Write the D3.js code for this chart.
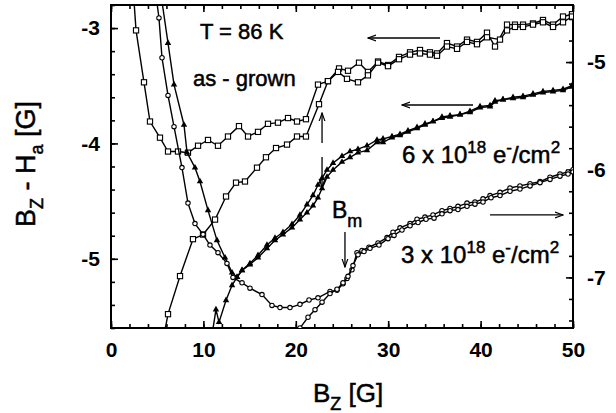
<!DOCTYPE html>
<html>
<head>
<meta charset="utf-8">
<script src="https://cdn.jsdelivr.net/npm/d3@7"></script>
<style>
  body { margin:0; background:#fff; }
  text { font-family: "Liberation Sans", Arial, Helvetica, sans-serif; fill:#000; }
</style>
</head>
<body>
<script>
// as-grown, open squares, left axis
var grown_up = [[2.44,-2.71],[2.71,-3.02],[3.57,-3.47],[4.22,-3.81],[5.30,-3.95],[6.17,-4.07],[7.25,-4.07],[8.33,-4.08],[9.42,-4.02],[10.50,-3.97],[11.58,-4.02],[12.66,-3.94],[13.85,-3.85],[14.83,-3.94],[15.91,-3.90],[16.99,-3.83],[18.07,-3.82],[19.16,-3.78],[20.13,-3.81],[21.10,-3.79],[22.40,-3.49],[23.48,-3.46],[24.68,-3.35],[25.65,-3.37],[26.84,-3.30],[27.81,-3.38],[28.90,-3.29],[29.98,-3.32],[31.17,-3.25],[32.36,-3.21],[33.44,-3.19],[34.52,-3.21],[35.28,-3.22],[36.36,-3.13],[37.45,-3.16],[38.53,-3.10],[39.61,-3.12],[40.69,-3.04],[41.56,-3.16],[42.86,-2.97],[43.72,-2.97],[44.59,-2.97],[45.67,-2.96],[46.75,-2.93],[47.84,-2.97],[48.92,-2.90],[49.89,-2.88]];
var grown_down = [[5.74,-5.66],[6.17,-5.48],[7.47,-5.15],[8.87,-4.83],[9.96,-4.79],[11.26,-4.66],[12.45,-4.46],[13.53,-4.34],[14.50,-4.33],[15.80,-4.21],[16.77,-4.12],[17.86,-4.04],[19.05,-4.01],[20.13,-3.94],[21.10,-3.94],[22.51,-3.66],[23.48,-3.46],[24.57,-3.38],[25.54,-3.44],[26.73,-3.47],[27.81,-3.41],[28.90,-3.30],[29.98,-3.33],[31.17,-3.27],[32.36,-3.23],[33.44,-3.22],[34.52,-3.23],[35.28,-3.24],[36.36,-3.16],[37.45,-3.18],[38.53,-3.12],[39.61,-3.14],[40.69,-3.08],[42.10,-3.10],[42.86,-3.02],[43.72,-2.99],[44.59,-2.99],[45.67,-2.97],[46.75,-2.95],[47.84,-2.99],[48.92,-2.95],[49.89,-2.90]];

// 6e18, filled triangles, left axis
var dose6_dec = [[5.41,-2.71],[6.17,-3.13],[6.82,-3.49],[7.90,-3.84],[8.23,-4.08],[9.09,-4.21],[9.63,-4.33],[10.50,-4.58],[11.47,-4.84],[12.34,-4.99],[13.10,-5.12],[13.64,-5.16],[14.18,-5.10],[15.04,-5.04],[15.91,-4.97],[16.88,-4.88],[17.75,-4.82],[18.61,-4.77],[19.59,-4.70],[20.45,-4.62],[21.21,-4.53],[21.86,-4.45],[22.40,-4.36],[22.84,-4.30],[23.38,-4.23],[24.03,-4.17],[25.00,-4.11],[25.87,-4.07],[26.73,-4.05],[27.71,-4.02],[28.79,-3.97],[29.44,-3.96],[30.41,-3.94],[31.28,-3.92],[32.14,-3.89],[33.12,-3.86],[33.98,-3.83],[34.85,-3.81],[35.82,-3.77],[36.69,-3.76],[37.77,-3.75],[38.85,-3.72],[39.94,-3.68],[41.02,-3.67],[41.56,-3.63],[42.42,-3.62],[43.51,-3.60],[44.59,-3.59],[45.67,-3.57],[46.75,-3.55],[47.84,-3.54],[48.92,-3.53],[49.89,-3.50]];
var dose6_inc = [[10.93,-5.66],[11.36,-5.44],[11.69,-5.55],[12.45,-5.36],[13.10,-5.23],[13.64,-5.16],[14.18,-5.10],[15.04,-5.05],[15.91,-4.99],[16.88,-4.91],[17.75,-4.84],[18.61,-4.79],[19.59,-4.73],[20.45,-4.66],[21.21,-4.60],[21.86,-4.54],[22.40,-4.47],[22.84,-4.39],[23.38,-4.29],[24.03,-4.23],[25.00,-4.16],[25.87,-4.12],[26.73,-4.08],[27.71,-4.06],[28.79,-3.99],[29.44,-3.99],[30.41,-3.95],[31.28,-3.93],[32.14,-3.90],[33.12,-3.87],[33.98,-3.84],[34.85,-3.81],[35.82,-3.78],[36.69,-3.77],[37.77,-3.75],[38.85,-3.73],[39.94,-3.69],[41.02,-3.68],[41.56,-3.64],[42.42,-3.62],[43.51,-3.61],[44.59,-3.60],[45.67,-3.58],[46.75,-3.56],[47.84,-3.55],[48.92,-3.54],[49.89,-3.51]];

// 3e18, open circles, right axis
var dose3_dec = [[4.87,-4.38],[5.19,-4.59],[5.52,-4.96],[6.17,-5.31],[6.82,-5.60],[7.68,-5.98],[8.33,-6.31],[9.09,-6.50],[9.96,-6.60],[10.71,-6.70],[11.58,-6.77],[12.55,-6.87],[13.20,-7.00],[14.18,-7.05],[15.04,-7.10],[16.34,-7.16],[17.42,-7.26],[18.29,-7.28],[19.37,-7.28],[20.45,-7.25],[21.43,-7.21],[22.40,-7.19],[23.70,-7.13],[24.46,-7.12],[25.11,-7.06],[25.54,-7.01],[26.08,-6.93],[26.62,-6.77],[27.16,-6.75],[27.92,-6.72],[28.90,-6.68],[29.87,-6.63],[30.52,-6.58],[31.28,-6.54],[32.36,-6.50],[33.12,-6.46],[33.98,-6.44],[34.85,-6.42],[35.82,-6.38],[36.69,-6.36],[37.55,-6.34],[38.53,-6.31],[39.39,-6.30],[40.26,-6.27],[41.02,-6.24],[42.10,-6.21],[43.18,-6.17],[44.26,-6.15],[45.35,-6.13],[46.43,-6.11],[47.51,-6.07],[48.59,-6.04],[49.46,-6.02],[50.00,-6.00]];
var dose3_inc = [[20.02,-7.54],[20.45,-7.47],[21.32,-7.37],[22.08,-7.30],[22.84,-7.23],[23.70,-7.15],[24.46,-7.11],[25.11,-7.05],[25.65,-6.99],[26.19,-6.89],[26.73,-6.79],[27.38,-6.76],[28.03,-6.73],[29.00,-6.70],[29.98,-6.64],[30.63,-6.61],[31.49,-6.56],[32.36,-6.52],[33.23,-6.49],[34.09,-6.46],[34.96,-6.45],[35.82,-6.41],[36.69,-6.38],[37.55,-6.37],[38.53,-6.34],[39.39,-6.32],[40.26,-6.30],[41.13,-6.26],[42.10,-6.24],[43.18,-6.20],[44.26,-6.18],[45.35,-6.15],[46.43,-6.12],[47.51,-6.09],[48.59,-6.06],[49.46,-6.04],[50.00,-6.02]];

var x_major = [0, 10, 20, 30, 40, 50];
var left_major = [-5, -4, -3];
var right_major = [-7, -6, -5];

// arrows: [x1, y1, x2, y2, axis]
var arrows = [
  [35.61, -3.086, 27.81, -3.086, 'left'],
  [39.18, -3.667, 31.49, -3.667, 'left'],
  [41.02, -6.42, 48.92, -6.42, 'right'],
  [22.84, -3.996, 22.84, -3.736, 'left'],
  [22.84, -4.118, 22.84, -4.378, 'left'],
  [25.32, -4.768, 25.32, -5.071, 'left']
];

var screen = { width:616, height:413 };
var margins = { left:111, top:5, right:43, bottom:85 };
var w = screen.width - margins.left - margins.right;
var h = screen.height - margins.top - margins.bottom;

var svg = d3.select('body').append('svg')
            .attr('width', screen.width)
            .attr('height', screen.height);

var xScale = d3.scaleLinear().domain([0, 50]).range([0, w]);
var yLeft = d3.scaleLinear().domain([-5.6, -2.8]).range([h, 0]);
var yRight = d3.scaleLinear().domain([-7.47, -4.47]).range([h, 0]);

var plot = svg.append('g')
              .attr('transform', 'translate('+margins.left+','+margins.top+')');

svg.append('defs').append('clipPath').attr('id', 'clip')
   .append('rect').attr('width', w).attr('height', h);

svg.select('defs').append('marker')
   .attr('id', 'head')
   .attr('viewBox', '0 0 10 10')
   .attr('refX', 9).attr('refY', 5)
   .attr('markerWidth', 9).attr('markerHeight', 9)
   .attr('markerUnits', 'userSpaceOnUse')
   .attr('orient', 'auto')
   .append('path')
   .attr('d', 'M0,1.8 L9,5 L0,8.2')
   .attr('fill', 'none').attr('stroke', '#000').attr('stroke-width', 1.3);

// ticks
var fmt = function(d){ return String(d); };
var tickStyle = function(g){
  g.select('.domain').remove();
  g.selectAll('line').attr('stroke', '#000').attr('stroke-width', 1.6);
  g.selectAll('text').attr('font-size', 21).attr('font-weight', 'bold').attr('fill', '#000');
};

plot.append('g').attr('transform', 'translate(0,'+h+')')
    .call(d3.axisBottom(xScale).tickValues(d3.range(0, 51, 2)).tickSize(-4).tickFormat(''))
    .call(tickStyle);
plot.append('g').attr('transform', 'translate(0,'+h+')')
    .call(d3.axisBottom(xScale).tickValues(x_major).tickSize(-7).tickPadding(14).tickFormat(fmt))
    .call(tickStyle);
plot.append('g')
    .call(d3.axisTop(xScale).tickValues(d3.range(0, 51, 2)).tickSize(-4).tickFormat(''))
    .call(tickStyle);
plot.append('g')
    .call(d3.axisTop(xScale).tickValues(x_major).tickSize(-7).tickFormat(''))
    .call(tickStyle);
plot.append('g')
    .call(d3.axisLeft(yLeft).tickValues(d3.range(-5.6, -2.79, 0.2)).tickSize(-4).tickFormat(''))
    .call(tickStyle);
plot.append('g')
    .call(d3.axisLeft(yLeft).tickValues(left_major).tickSize(-7).tickPadding(11).tickFormat(fmt))
    .call(tickStyle);
plot.append('g').attr('transform', 'translate('+w+',0)')
    .call(d3.axisRight(yRight).tickValues(d3.range(-7.4, -4.5, 0.2)).tickSize(-4).tickFormat(''))
    .call(tickStyle);
plot.append('g').attr('transform', 'translate('+w+',0)')
    .call(d3.axisRight(yRight).tickValues(right_major).tickSize(-7).tickPadding(14).tickFormat(fmt))
    .call(tickStyle);

plot.append('rect')
    .attr('width', w).attr('height', h)
    .attr('fill', 'none').attr('stroke', '#000').attr('stroke-width', 2);

// series
var series = [
  { data:grown_up, y:yLeft, mark:'square' },
  { data:grown_down, y:yLeft, mark:'square' },
  { data:dose6_dec, y:yLeft, mark:'triangle' },
  { data:dose6_inc, y:yLeft, mark:'triangle' },
  { data:dose3_dec, y:yRight, mark:'circle' },
  { data:dose3_inc, y:yRight, mark:'circle' }
];

var curves = plot.append('g').attr('clip-path', 'url(#clip)');

series.forEach(function(s){
  var line = d3.line()
               .x(function(d){ return xScale(d[0]); })
               .y(function(d){ return s.y(d[1]); });
  curves.append('path')
        .datum(s.data)
        .attr('d', line)
        .attr('fill', 'none')
        .attr('stroke', '#000')
        .attr('stroke-width', 1.4);

  var pts = curves.append('g').selectAll('g')
                  .data(s.data)
                  .enter()
                  .append('g')
                  .attr('transform', function(d){
                    return 'translate('+xScale(d[0])+','+s.y(d[1])+')';
                  });
  if (s.mark == 'square'){
    pts.append('rect')
       .attr('x', -2.6).attr('y', -2.6)
       .attr('width', 5.2).attr('height', 5.2)
       .attr('fill', '#fff').attr('stroke', '#000').attr('stroke-width', 1.1);
  }else if (s.mark == 'triangle'){
    pts.append('path')
       .attr('d', d3.symbol(d3.symbolTriangle).size(18))
       .attr('fill', '#000');
  }else{
    pts.append('circle')
       .attr('r', 2.2)
       .attr('fill', '#fff').attr('stroke', '#000').attr('stroke-width', 1.1);
  }
});

// arrows
arrows.forEach(function(a){
  var ys = a[4] == 'left' ? yLeft : yRight;
  plot.append('line')
      .attr('x1', xScale(a[0])).attr('y1', ys(a[1]))
      .attr('x2', xScale(a[2])).attr('y2', ys(a[3]))
      .attr('stroke', '#000').attr('stroke-width', 1.3)
      .attr('marker-end', 'url(#head)');
});

// annotations
var note = function(x, y, size){
  return plot.append('text')
             .attr('x', xScale(x)).attr('y', yLeft(y))
             .attr('font-size', size)
             .attr('stroke', '#000').attr('stroke-width', 0.5);
};

note(9.63, -3.095, 22).text('T = 86 K');
note(8.87, -3.502, 22).text('as - grown');

var dose = function(x, y, lead){
  var t = note(x, y, 24);
  t.append('tspan').text(lead + ' x 10');
  t.append('tspan').attr('dy', -10).attr('font-size', 17).text('18');
  t.append('tspan').attr('dy', 10).text(' e');
  t.append('tspan').attr('dy', -10).attr('font-size', 17).text('-');
  t.append('tspan').attr('dy', 10).text('/cm');
  t.append('tspan').attr('dy', -10).attr('font-size', 17).text('2');
};
dose(31.49, -4.17, '6');
dose(31.39, -5.037, '3');

var bm = note(23.92, -4.646, 23);
bm.append('tspan').text('B');
bm.append('tspan').attr('dy', 9).attr('font-size', 18).text('m');

// axis titles
var ytitle = svg.append('text')
                .attr('transform', 'translate(35,164) rotate(-90)')
                .attr('text-anchor', 'middle')
                .attr('font-size', 27)
                .attr('stroke', '#000').attr('stroke-width', 0.5);
ytitle.append('tspan').text('B');
ytitle.append('tspan').attr('dy', 8).attr('font-size', 18).text('Z');
ytitle.append('tspan').attr('dy', -8).text(' - H');
ytitle.append('tspan').attr('dy', 8).attr('font-size', 18).text('a');
ytitle.append('tspan').attr('dy', -8).text(' [G]');

var xtitle = svg.append('text')
                .attr('x', 313).attr('y', 402)
                .attr('font-size', 26)
                .attr('stroke', '#000').attr('stroke-width', 0.5);
xtitle.append('tspan').text('B');
xtitle.append('tspan').attr('dy', 8).attr('font-size', 18).text('Z');
xtitle.append('tspan').attr('dy', -8).text(' [G]');
</script>
</body>
</html>
